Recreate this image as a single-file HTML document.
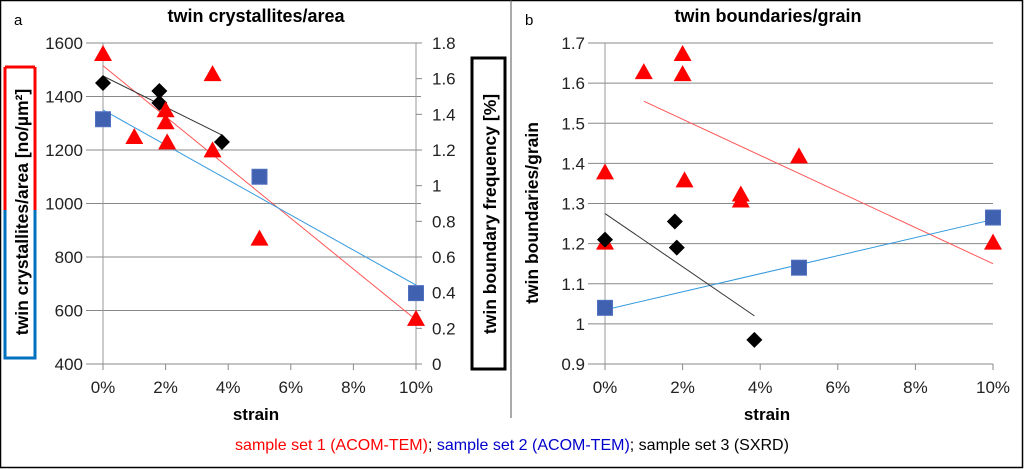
<!DOCTYPE html>
<html><head><meta charset="utf-8"><style>
body{margin:0;background:#fff}
svg{display:block;font-family:"Liberation Sans",sans-serif}
</style></head><body>
<svg id="s" width="1024" height="469" viewBox="0 0 1024 469">
<rect x="0.5" y="0.5" width="1022" height="467" fill="#fff" stroke="#000" stroke-width="1.5"/>
<line x1="511" y1="0" x2="511" y2="418" stroke="#555"/>
<g id="ga"></g>
<g id="gb"></g>
<text x="14" y="25" font-size="15">a</text>
<text x="256" y="22" font-size="18" font-weight="bold" text-anchor="middle">twin crystallites/area</text>
<text x="525" y="25" font-size="15">b</text>
<text x="768" y="22" font-size="18" font-weight="bold" text-anchor="middle">twin boundaries/grain</text>
<text x="256" y="420" font-size="17" font-weight="bold" text-anchor="middle">strain</text>
<text x="767" y="420" font-size="17" font-weight="bold" text-anchor="middle">strain</text>
<line x1="5" y1="67" x2="5" y2="210" stroke="#f00" stroke-width="3"/>
<line x1="5" y1="67" x2="35" y2="67" stroke="#f00" stroke-width="3"/>
<line x1="35" y1="67" x2="35" y2="210" stroke="#f00" stroke-width="3"/>
<polyline points="5,210 5,358 35,358 35,210" fill="none" stroke="#0070c0" stroke-width="3"/>
<text transform="translate(28,212) rotate(-90)" font-size="17.5" font-weight="bold" text-anchor="middle">twin  crystallites/area [no/µm²]</text>
<rect x="472" y="58" width="33" height="311" fill="none" stroke="#000" stroke-width="3"/>
<text transform="translate(496,214) rotate(-90)" font-size="17.5" font-weight="bold" text-anchor="middle">twin boundary frequency [%]</text>
<text transform="translate(538,213) rotate(-90)" font-size="17.5" font-weight="bold" text-anchor="middle">twin boundaries/grain</text>
<text x="512" y="450" font-size="16" text-anchor="middle"><tspan fill="#f00">sample set 1 (ACOM-TEM)</tspan>; <tspan fill="#00c">sample set 2 (ACOM-TEM)</tspan>; <tspan fill="#000">sample set 3 (SXRD)</tspan></text>
</svg>
<script>
const xTicks=[0,2,4,6,8,10];
const aYTicks=[400,600,800,1000,1200,1400,1600];
const aY2Ticks=[0,0.2,0.4,0.6,0.8,1,1.2,1.4,1.6,1.8];
const bYTicks=[0.9,1,1.1,1.2,1.3,1.4,1.5,1.6,1.7];
const aRedX=[0,1,2,2,2.05,3.5,3.5,5,10];
const aRedY=[1555,1245,1345,1300,1225,1480,1195,865,565];
const aBlueX=[0,5,10];
const aBlueY=[1315,1100,665];
const aBlackX=[0,1.8,1.8,3.8];
const aBlackY=[1.576,1.531,1.464,1.245];
const aRedTrend=[[0,1515],[10,565]];
const aBlueTrend=[[0,1350],[10,695]];
const aBlackTrend=[[0,1.615],[3.8,1.284]];
const bRedX=[0,0,1,2,2,2.05,3.5,3.5,5,10];
const bRedY=[1.375,1.2,1.625,1.67,1.62,1.355,1.32,1.305,1.415,1.2];
const bBlueX=[0,5,10];
const bBlueY=[1.04,1.14,1.265];
const bBlackX=[0,1.8,1.85,3.85];
const bBlackY=[1.21,1.255,1.19,0.96];
const bRedTrend=[[1,1.555],[10,1.15]];
const bBlueTrend=[[0,1.035],[10,1.26]];
const bBlackTrend=[[0,1.275],[3.85,1.02]];
const NS='http://www.w3.org/2000/svg';
function mk(g,t,at){const e=document.createElementNS(NS,t);for(const k in at)e.setAttribute(k,at[k]);g.appendChild(e);return e;}
function scale(d0,d1,r0,r1){return v=>r0+(v-d0)/(d1-d0)*(r1-r0);}
function panel(g,x0,x1,yTicks,fmtY,y2Ticks){
  const X=scale(0,10,x0,x1),Y=scale(yTicks[0],yTicks[yTicks.length-1],364,43);
  yTicks.forEach(t=>{const l=mk(g,'line',{x1:x0-17,x2:x1+(y2Ticks?5:0),y1:Y(t),y2:Y(t),stroke:'#888'});
    
    
    const tx=mk(g,'text',{x:x0-20,y:Y(t)+6,'font-size':17,'text-anchor':'end',fill:'#222'});tx.textContent=fmtY(t);
    
    });
  const ax=mk(g,'line',{x1:x0,x2:x0,y1:43,y2:364,stroke:'#999'});
  
  
  xTicks.forEach(t=>{const l=mk(g,'line',{x1:X(t),x2:X(t),y1:364,y2:370,stroke:'#888'});
    
    
    const tx=mk(g,'text',{x:X(t),y:393,'font-size':17,'text-anchor':'middle',fill:'#222'});tx.textContent=t+'%';
    
    });
  let Y2=null;
  if(y2Ticks){Y2=scale(0,1.8,364,43);
    const a2=mk(g,'line',{x1:x1,x2:x1,y1:43,y2:364,stroke:'#999'});
    
    
    y2Ticks.forEach(t=>{const l=mk(g,'line',{x1:x1,x2:x1+6,y1:Y2(t),y2:Y2(t),stroke:'#888'});
      
      
      const tx=mk(g,'text',{x:x1+16,y:Y2(t)+6,'font-size':17,fill:'#222'});tx.textContent=String(t);
      
      });}
  return {X,Y,Y2};
}
function trend(g,X,Y,tr,c,n){const l=mk(g,'line',{x1:X(tr[0][0]),y1:Y(tr[0][1]),x2:X(tr[1][0]),y2:Y(tr[1][1]),stroke:c,'stroke-width':1});
  
  }
function tri(g,X,Y,xs,ys,n){xs.forEach((x,i)=>{const cx=X(x),cy=Y(ys[i]);
  const p=mk(g,'polygon',{points:`${cx},${cy-10} ${cx-9},${cy+6} ${cx+9},${cy+6}`,fill:'#f00'});
  
  });}
function sq(g,X,Y,xs,ys,n){xs.forEach((x,i)=>{const r=mk(g,'rect',{x:X(x)-7.5,y:Y(ys[i])-7.5,width:15,height:15,fill:'#4060b0',stroke:'#5070c0'});
  
  });}
function dia(g,X,Y,xs,ys,n){xs.forEach((x,i)=>{const cx=X(x),cy=Y(ys[i]);
  const p=mk(g,'polygon',{points:`${cx},${cy-8} ${cx+8},${cy} ${cx},${cy+8} ${cx-8},${cy}`,fill:'#000'});
  
  });}
const ga=document.getElementById('ga'),gb=document.getElementById('gb');
const A=panel(ga,103,416,aYTicks,String,aY2Ticks);
trend(ga,A.X,A.Y,aRedTrend,'#f55','trend-set1');
trend(ga,A.X,A.Y,aBlueTrend,'#3399dd','trend-set2');
trend(ga,A.X,A.Y2,aBlackTrend,'#333','trend-set3');
sq(ga,A.X,A.Y,aBlueX,aBlueY,'point-set2');
dia(ga,A.X,A.Y2,aBlackX,aBlackY,'point-set3');
tri(ga,A.X,A.Y,aRedX,aRedY,'point-set1');
const B=panel(gb,605,993,bYTicks,t=>(Math.round(t*10)/10).toString(),null);
trend(gb,B.X,B.Y,bRedTrend,'#f55','trend-set1');
trend(gb,B.X,B.Y,bBlueTrend,'#3399dd','trend-set2');
trend(gb,B.X,B.Y,bBlackTrend,'#333','trend-set3');
sq(gb,B.X,B.Y,bBlueX,bBlueY,'point-set2');
tri(gb,B.X,B.Y,bRedX,bRedY,'point-set1');
dia(gb,B.X,B.Y,bBlackX,bBlackY,'point-set3');
</script>
</body></html>
